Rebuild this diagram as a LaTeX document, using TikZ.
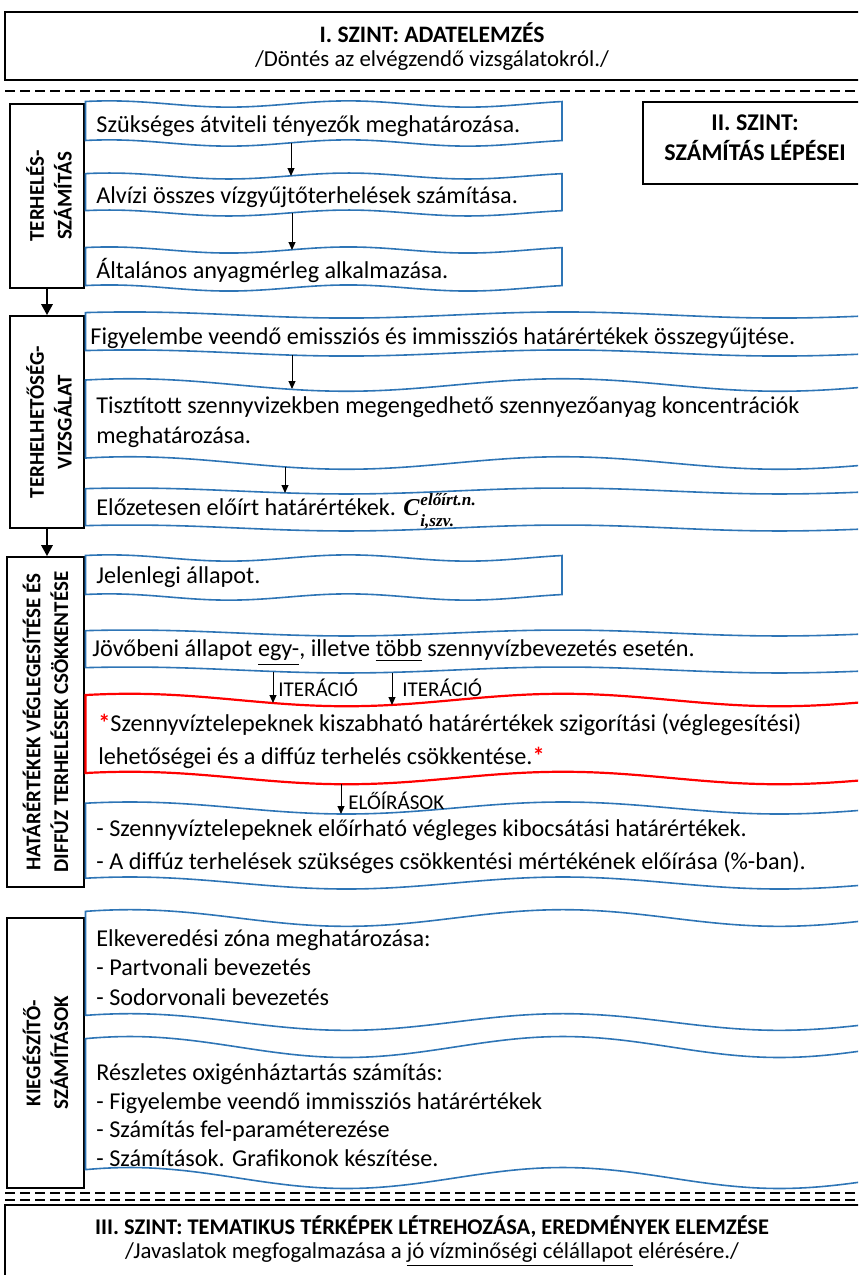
\documentclass[tikz,border=0pt]{standalone}
\usepackage{fontspec}
\usepackage{amsmath}
\setmainfont{Carlito}
\newfontfamily\formulafont{Liberation Serif}
\usetikzlibrary{arrows.meta,positioning}

\definecolor{waveblue}{RGB}{46,117,182}
\definecolor{wavered}{RGB}{255,0,0}

\newcommand{\redstar}{\textcolor{wavered}{\textbf{*}}}
\newcommand{\cbi}[1]{{\formulafont\bfseries\itshape #1}}
\newcommand{\cidx}[1]{{\formulafont\bfseries\itshape\fontsize{8.6}{9}\selectfont #1}}

% wavy step box: [style]{left}{right}{top}{bottom}{period}
\newcommand{\wavebox}[6][waveline]{%
  \pgfmathsetmacro{\wamp}{0.08*(#5-#4)}%
  \pgfmathsetmacro{\wphase}{84-0.144*#6}%
  \pgfmathsetmacro{\wfreq}{360/#6}%
  \draw[#1] plot[domain=#2:#3,samples=120,smooth] (\x,{#4-\wamp*sin((\x-\wphase)*\wfreq)})
    -- plot[domain=#3:#2,samples=120,smooth] (\x,{#5-\wamp*sin((\x-\wphase)*\wfreq)}) -- cycle;
}

\tikzset{
  waveline/.style={draw=waveblue, line width=0.8pt},
  waveredline/.style={draw=wavered, line width=1.1pt},
  lvlbox/.style={draw, line width=0.8pt, inner sep=0pt, minimum width=37pt},
  sidelabel/.style={rotate=90, align=center, inner sep=0pt, font=\fontsize{10.5}{13.8}\selectfont\bfseries},
  steptext/.style={anchor=west, inner sep=0pt, align=left, font=\fontsize{12.1}{15}\selectfont},
  smalllabel/.style={anchor=west, inner sep=0pt, font=\fontsize{10.5}{12}\selectfont},
  leveltitle/.style={anchor=base, inner sep=0pt, font=\fontsize{11.8}{14}\selectfont\bfseries},
  levelsub/.style={anchor=base, inner sep=0pt, font=\fontsize{11.4}{14}\selectfont},
  steparrow/.style={-{Triangle[length=4pt,width=3.5pt]}, line width=0.5pt},
  levelarrow/.style={-{Triangle[length=5.5pt,width=5.5pt]}, line width=1.4pt},
  sepline/.style={dash pattern=on 5pt off 2.5pt, line width=0.9pt},
}

\begin{document}
\begin{tikzpicture}[x=0.5pt,y=-0.5pt]
\useasboundingbox (0,0) rectangle (858,1275);
\clip (0,0) rectangle (858,1275);

% I. szint
\draw[line width=1.1pt] (5,12) rectangle (870,80);
\node[leveltitle] (lvlItitle) at (432,42) {I. SZINT: ADATELEMZÉS};
\node[levelsub] (lvlIsub) at (432,66) {/Döntés az elvégzendő vizsgálatokról./};
\draw[sepline] (5,91) -- (858,91);

% II. szint
\draw[line width=0.8pt] (643,102) rectangle (870,184);
\node[align=center, inner sep=0pt, font=\fontsize{12}{15}\selectfont\bfseries] (lvlII) at (755,138) {II. SZINT:\\SZÁMÍTÁS LÉPÉSEI};

% left label boxes
\node[lvlbox, minimum height=92pt] (lvl1) at (47,196) {};
\node[sidelabel] (lab1) at (49,196) {TERHELÉS-\\SZÁMÍTÁS};
\node[lvlbox, minimum height=106pt] (lvl2) at (47,422) {};
\node[sidelabel] (lab2) at (49,422) {TERHELHETŐSÉG-\\VIZSGÁLAT};
\node[lvlbox, minimum width=38.5pt, minimum height=165pt] (lvl3) at (45.5,722) {};
\node[sidelabel] (lab3) at (lvl3) {HATÁRÉRTÉKEK VÉGLEGESÍTÉSE ÉS\\DIFFÚZ TERHELÉSEK CSÖKKENTÉSE};
\node[lvlbox, minimum width=38.5pt, minimum height=135pt] (lvl4) at (45.5,1053) {};
\node[sidelabel] (lab4) at (lvl4) {KIEGÉSZÍTŐ-\\SZÁMÍTÁSOK};
\draw[levelarrow] (lvl1.south) -- (lvl2.north);
\draw[levelarrow] (lvl2.south) -- (lvl2.south |- lvl3.north);

% terheles-szamitas
\wavebox{85.5}{562}{104}{143}{239}
\wavebox{85.5}{562}{176}{213}{239}
\wavebox{85.5}{562}{250}{288}{239}
\node[steptext] (t11) at (96,126) {Szükséges átviteli tényezők meghatározása.};
\node[steptext] (t12) at (96,197) {Alvízi összes vízgyűjtőterhelések számítása.};
\node[steptext] (t13) at (96,270) {Általános anyagmérleg alkalmazása.};
\coordinate (b11s) at (291,143);
\coordinate (b12n) at (291,176);
\coordinate (b12s) at (292,213);
\coordinate (b13n) at (292,250);
\draw[steparrow] (b11s) -- (b12n);
\draw[steparrow] (b12s) -- (b13n);

% terhelhetoseg-vizsgalat
\wavebox{85.5}{880}{315}{353}{433}
\wavebox{85.5}{880}{385}{463}{433}
\wavebox{85.5}{880}{491}{528}{433}
\node[steptext] (t21) at (90,338) {Figyelembe veendő emissziós és immissziós határértékek összegyűjtése.};
\node[steptext] (t22) at (96,422) {Tisztított szennyvizekben megengedhető szennyezőanyag koncentrációk\\meghatározása.};
\node[steptext] (t23) at (96,510) {Előzetesen előírt határértékek. \cbi{C}\kern0.5pt\raisebox{-0.2pt}{\begin{tabular}[c]{@{}l@{}}\cidx{előírt.n.}\\[-4.5pt]\cidx{i,szv.}\end{tabular}}};
\coordinate (b21s) at (292,355);
\coordinate (b22n) at (292,389);
\coordinate (b22s) at (285,467);
\coordinate (b23n) at (285,493);
\draw[steparrow] (b21s) -- (b22n);
\draw[steparrow] (b22s) -- (b23n);

% hatarertekek veglegesitese
\wavebox{85.5}{562}{558}{597}{239}
\wavebox{85.5}{880}{633}{670}{433}
\wavebox[waveredline]{85.5}{880}{700}{778}{433}
\wavebox{85.5}{880}{808}{883}{433}
\node[steptext] (t31) at (96,577) {Jelenlegi állapot.};
\node[steptext] (t32) at (92,653) {Jövőbeni állapot \underline{egy-}, illetve \underline{több} szennyvízbevezetés esetén.};
\node[steptext, font=\fontsize{12.1}{16.5}\selectfont] (t33) at (98,741.5) {\redstar Szennyvíztelepeknek kiszabható határértékek szigorítási (véglegesítési)\\lehetőségei és a diffúz terhelés csökkentése.\redstar};
\node[steptext, font=\fontsize{12.1}{16.5}\selectfont] (t34) at (96,846.5) {- Szennyvíztelepeknek előírható végleges kibocsátási határértékek.\\- A diffúz terhelések szükséges csökkentési mértékének előírása (\%-ban).};
\coordinate (b32s1) at (273,671.5);
\coordinate (b33n1) at (273,703);
\coordinate (b32s2) at (392,672.5);
\coordinate (b33n2) at (392,705);
\coordinate (b33s) at (341,784);
\coordinate (b34n) at (341,814);
\draw[steparrow] (b32s1) -- (b33n1);
\draw[steparrow] (b32s2) -- (b33n2);
\draw[steparrow] (b33s) -- (b34n);
\node[smalllabel] (iter1) at (278,688) {ITERÁCIÓ};
\node[smalllabel] (iter2) at (402,688) {ITERÁCIÓ};
\node[smalllabel] (eloir) at (348,801) {ELŐÍRÁSOK};

% kiegeszito szamitasok
\wavebox{85.5}{880}{918}{1022}{433}
\wavebox{85.5}{880}{1047}{1178}{433}
\node[steptext, font=\fontsize{12.1}{14.75}\selectfont] (t41) at (96,967.5) {Elkeveredési zóna meghatározása:\\- Partvonali bevezetés\\- Sodorvonali bevezetés};
\node[steptext, font=\fontsize{12.1}{14.3}\selectfont] (t42) at (96,1115) {Részletes oxigénháztartás számítás:\\- Figyelembe veendő immissziós határértékek\\- Számítás fel-paraméterezése\\- Számítások. Grafikonok készítése.};

% III. szint
\draw[sepline] (5,1193) -- (858,1193);
\draw[sepline] (5,1200) -- (858,1200);
\draw[line width=1.1pt] (5,1205) rectangle (870,1290);
\node[leveltitle, font=\fontsize{11.2}{14}\selectfont\bfseries] (lvlIIItitle) at (432,1234) {III. SZINT: TEMATIKUS TÉRKÉPEK LÉTREHOZÁSA, EREDMÉNYEK ELEMZÉSE};
\node[levelsub] (lvlIIIsub) at (432,1258) {/Javaslatok megfogalmazása a \underline{jó vízminőségi célállapot} elérésére./};
\end{tikzpicture}
\end{document}
